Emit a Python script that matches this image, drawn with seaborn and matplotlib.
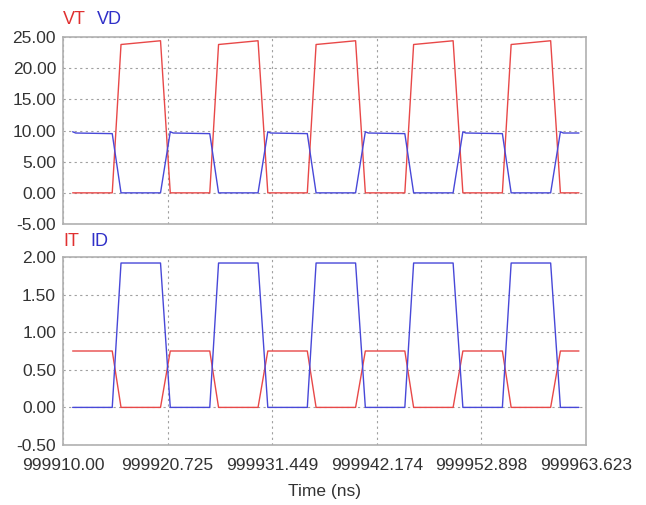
import matplotlib
matplotlib.use("Agg")
import matplotlib.pyplot as plt
import seaborn as sns
import numpy as np

# ---- data ----
T0 = 999910.0
# time offsets (ns) for VT / IT / ID breakpoints
t_main = [0.99, 5.05, 5.95, 10.0, 11.0, 15.05, 15.95, 20.0, 21.0,
          25.05, 25.95, 30.0, 31.0, 35.05, 35.95, 40.0, 41.0,
          45.05, 45.95, 50.0, 51.0, 52.9]
vt = [0, 0, 23.8, 24.4, 0, 0, 23.8, 24.4, 0,
      0, 23.8, 24.4, 0, 0, 23.8, 24.4, 0,
      0, 23.8, 24.4, 0, 0]
it_ = [0.75, 0.75, 0, 0, 0.75, 0.75, 0, 0, 0.75,
       0.75, 0, 0, 0.75, 0.75, 0, 0, 0.75,
       0.75, 0, 0, 0.75, 0.75]
id_ = [0, 0, 1.92, 1.92, 0, 0, 1.92, 1.92, 0,
       0, 1.92, 1.92, 0, 0, 1.92, 1.92, 0,
       0, 1.92, 1.92, 0, 0]
# VD has a small droop right after each rise
t_vd = [0.99, 1.3, 5.05, 5.95, 10.0, 11.0, 11.3, 15.05, 15.95, 20.0,
        21.0, 21.3, 25.05, 25.95, 30.0, 31.0, 31.3, 35.05, 35.95, 40.0,
        41.0, 41.3, 45.05, 45.95, 50.0, 51.0, 51.3, 52.9]
vd = [9.8, 9.6, 9.5, 0, 0, 9.8, 9.6, 9.5, 0, 0,
      9.8, 9.6, 9.5, 0, 0, 9.8, 9.6, 9.5, 0, 0,
      9.8, 9.6, 9.5, 0, 0, 9.8, 9.6, 9.6]

x_ticks = [999910.00, 999920.725, 999931.449, 999942.174, 999952.898, 999963.623]
x_labels = ["999910.00", "999920.725", "999931.449", "999942.174", "999952.898", "999963.623"]
v_ticks = [25, 20, 15, 10, 5, 0, -5]
v_labels = ["25.00", "20.00", "15.00", "10.00", "5.00", "0.00", "-5.00"]
i_ticks = [2.0, 1.5, 1.0, 0.5, 0.0, -0.5]
i_labels = ["2.00", "1.50", "1.00", "0.50", "0.00", "-0.50"]

RED = "#e84848"
BLUE = "#4848d8"

sns.set_style("white")
plt.rcParams['font.family'] = ['Liberation Sans', 'DejaVu Sans']

fig = plt.figure(figsize=(6.46, 5.05), dpi=100)
ax1 = fig.add_axes([0.0975, 0.5564, 0.8096, 0.3703])
ax2 = fig.add_axes([0.0975, 0.1188, 0.8096, 0.3723])

tm = [T0 + t for t in t_main]
tv = [T0 + t for t in t_vd]

sns.lineplot(x=tm, y=vt, ax=ax1, color=RED, linewidth=1.0, estimator=None, sort=False)
sns.lineplot(x=tv, y=vd, ax=ax1, color=BLUE, linewidth=1.0, estimator=None, sort=False)
sns.lineplot(x=tm, y=it_, ax=ax2, color=RED, linewidth=1.0, estimator=None, sort=False)
sns.lineplot(x=tm, y=id_, ax=ax2, color=BLUE, linewidth=1.0, estimator=None, sort=False)

for ax, yt, yl, lim in [(ax1, v_ticks, v_labels, (-5, 25)), (ax2, i_ticks, i_labels, (-0.5, 2.0))]:
    ax.set_xlim(x_ticks[0], x_ticks[-1])
    ax.set_ylim(*lim)
    ax.set_yticks(yt)
    ax.set_yticklabels(yl)
    ax.set_xticks(x_ticks)
    ax.grid(True, color="#a0a0a0", linestyle=(0, (2, 3)), linewidth=0.8)
    ax.tick_params(axis='y', length=0, labelsize=12.5, colors="#333333", pad=5)
    ax.tick_params(axis='x', length=0, labelsize=12.5, colors="#333333", pad=9.5)
    for s in ax.spines.values():
        s.set_color("#b0b0b0")
        s.set_linewidth(1.2)
    ax.set_xlabel("")
    ax.set_ylabel("")

ax1.set_xticklabels([])
ax2.set_xticklabels(x_labels)
ax2.set_xlabel("Time (ns)", fontsize=12.5, color="#333333", labelpad=8)

fig.text(63/646, 1 - 20/505, "VT", color="#e03030", fontsize=13, va="center", ha="left")
fig.text(97/646, 1 - 20/505, "VD", color="#3030c8", fontsize=13, va="center", ha="left")
fig.text(63/646, 1 - 242/505, "IT", color="#e03030", fontsize=13, va="center", ha="left")
fig.text(90/646, 1 - 242/505, "ID", color="#3030c8", fontsize=13, va="center", ha="left")

fig.savefig("out.png", dpi=100, facecolor="white")
